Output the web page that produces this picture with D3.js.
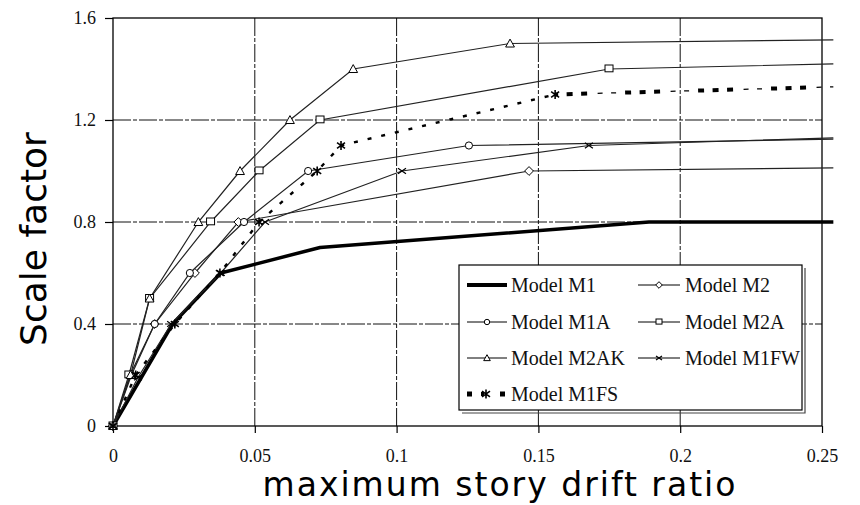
<!DOCTYPE html>
<html>
<head>
<meta charset="utf-8">
<script src="https://cdn.jsdelivr.net/npm/d3@7"></script>
<style>
  body { margin: 0; background: #fff; }
</style>
</head>
<body>
<div id="chart"></div>
<script>
var width = 860,
    height = 505;

// values (drift ratio, scale factor)
var m1Drift = [0, 0.021, 0.038, 0.073, 0.189, 0.254];
var m1Scale = [0, 0.4, 0.6, 0.7, 0.8, 0.8];

var m2Drift = [0, 0.006, 0.0147, 0.0289, 0.0442, 0.1467, 0.254];
var m2Scale = [0, 0.2, 0.4, 0.6, 0.8, 1.0, 1.012];

var m1aDrift = [0, 0.0065, 0.0147, 0.0271, 0.0462, 0.0688, 0.1255, 0.254];
var m1aScale = [0, 0.2, 0.4, 0.6, 0.8, 1.0, 1.1, 1.125];

var m2aDrift = [0, 0.0056, 0.0129, 0.0344, 0.0515, 0.073, 0.1749, 0.254];
var m2aScale = [0, 0.2, 0.5, 0.8, 1.0, 1.2, 1.4, 1.42];

var m2akDrift = [0, 0.0062, 0.0129, 0.0301, 0.0448, 0.0624, 0.0847, 0.14, 0.254];
var m2akScale = [0, 0.2, 0.5, 0.8, 1.0, 1.2, 1.4, 1.5, 1.514];

var m1fwDrift = [0, 0.0088, 0.0205, 0.038, 0.0536, 0.1019, 0.1678, 0.254];
var m1fwScale = [0, 0.19, 0.4, 0.6, 0.8, 1.0, 1.1, 1.13];

var m1fsDrift = [0, 0.008, 0.0218, 0.0377, 0.0515, 0.072, 0.0804, 0.1559, 0.254];
var m1fsScale = [0, 0.2, 0.4, 0.6, 0.8, 1.0, 1.1, 1.3, 1.33];

var xTicks = [0, 0.05, 0.1, 0.15, 0.2, 0.25];
var xTickLabels = ['0', '0.05', '0.1', '0.15', '0.2', '0.25'];
var yTicks = [0, 0.4, 0.8, 1.2, 1.6];
var yTickLabels = ['0', '0.4', '0.8', '1.2', '1.6'];

var series = [
    {name: 'Model M1', xs: m1Drift, ys: m1Scale, marker: 'none'},
    {name: 'Model M2', xs: m2Drift, ys: m2Scale, marker: 'diamond'},
    {name: 'Model M1A', xs: m1aDrift, ys: m1aScale, marker: 'circle'},
    {name: 'Model M2A', xs: m2aDrift, ys: m2aScale, marker: 'square'},
    {name: 'Model M2AK', xs: m2akDrift, ys: m2akScale, marker: 'triangle'},
    {name: 'Model M1FW', xs: m1fwDrift, ys: m1fwScale, marker: 'cross'},
    {name: 'Model M1FS', xs: m1fsDrift, ys: m1fsScale, marker: 'star'}
];

var svg = d3.select('#chart').append('svg')
    .attr('width', width)
    .attr('height', height);

var x = d3.scaleLinear().domain([0, 0.25]).range([113, 822]);
var y = d3.scaleLinear().domain([0, 1.6]).range([426, 18]);

var line = d3.line()
    .x(function(d) { return x(d[0]); })
    .y(function(d) { return y(d[1]); });

// gridlines (dash-dot)
svg.append('g').selectAll('line')
    .data(xTicks.slice(1, -1))
    .enter().append('line')
    .attr('x1', function(d) { return x(d); })
    .attr('x2', function(d) { return x(d); })
    .attr('y1', y(1.6))
    .attr('y2', y(0))
    .style('stroke', '#111')
    .style('stroke-width', 1)
    .style('stroke-dasharray', '18,2,4,2');

svg.append('g').selectAll('line')
    .data(yTicks.slice(1, -1))
    .enter().append('line')
    .attr('x1', x(0))
    .attr('x2', x(0.25))
    .attr('y1', function(d) { return y(d); })
    .attr('y2', function(d) { return y(d); })
    .style('stroke', '#111')
    .style('stroke-width', 1)
    .style('stroke-dasharray', '18,2,4,2');

// axes
var xAxis = d3.axisBottom(x)
    .tickValues(xTicks)
    .tickSize(7)
    .tickPadding(16)
    .tickFormat(function(d, i) { return xTickLabels[i]; });
var yAxis = d3.axisLeft(y)
    .tickValues(yTicks)
    .tickSize(8)
    .tickPadding(9)
    .tickFormat(function(d, i) { return yTickLabels[i]; });

var gx = svg.append('g')
    .attr('transform', 'translate(0,' + y(0) + ')')
    .call(xAxis);
var gy = svg.append('g')
    .attr('transform', 'translate(' + x(0) + ',0)')
    .call(yAxis);

[gx, gy].forEach(function(g) {
    g.select('.domain').remove();
    g.selectAll('line').style('stroke', '#000').style('stroke-width', 1.2);
    g.selectAll('text')
        .style('font-family', '"Liberation Serif", serif')
        .style('font-size', '18px')
        .style('fill', '#111');
});

// frame
svg.append('rect')
    .attr('x', x(0))
    .attr('y', y(1.6))
    .attr('width', x(0.25) - x(0))
    .attr('height', y(0) - y(1.6))
    .style('fill', 'none')
    .style('stroke', '#000')
    .style('stroke-width', 1.3);

function drawMarker(g, type, cx, cy, s) {
    if (type == 'circle') {
        g.append('circle').attr('cx', cx).attr('cy', cy).attr('r', s * 0.45)
            .style('fill', '#fff').style('stroke', '#000').style('stroke-width', 1);
    } else if (type == 'diamond') {
        var h = s * 0.55;
        g.append('path')
            .attr('d', 'M' + cx + ',' + (cy - h) + 'L' + (cx + h) + ',' + cy + 'L' + cx + ',' + (cy + h) + 'L' + (cx - h) + ',' + cy + 'Z')
            .style('fill', '#fff').style('stroke', '#000').style('stroke-width', 1);
    } else if (type == 'square') {
        g.append('rect').attr('x', cx - s / 2).attr('y', cy - s / 2)
            .attr('width', s).attr('height', s * 0.85)
            .style('fill', '#fff').style('stroke', '#000').style('stroke-width', 1);
    } else if (type == 'triangle') {
        var t = s * 0.55;
        g.append('path')
            .attr('d', 'M' + cx + ',' + (cy - t) + 'L' + (cx + t) + ',' + (cy + t * 0.8) + 'L' + (cx - t) + ',' + (cy + t * 0.8) + 'Z')
            .style('fill', '#fff').style('stroke', '#000').style('stroke-width', 1);
    } else if (type == 'cross') {
        var c = s * 0.5;
        g.append('path')
            .attr('d', 'M' + (cx - c) + ',' + (cy - c * 0.7) + 'L' + (cx + c) + ',' + (cy + c * 0.7) +
                'M' + (cx - c) + ',' + (cy + c * 0.7) + 'L' + (cx + c) + ',' + (cy - c * 0.7))
            .style('fill', 'none').style('stroke', '#000').style('stroke-width', 1.2);
    } else if (type == 'star') {
        var k = s * 0.5;
        g.append('path')
            .attr('d', 'M' + (cx - k) + ',' + (cy - k * 0.7) + 'L' + (cx + k) + ',' + (cy + k * 0.7) +
                'M' + (cx - k) + ',' + (cy + k * 0.7) + 'L' + (cx + k) + ',' + (cy - k * 0.7) +
                'M' + cx + ',' + (cy - k * 1.1) + 'L' + cx + ',' + (cy + k * 1.1))
            .style('fill', 'none').style('stroke', '#000').style('stroke-width', 1.6);
    }
}

// series lines
var plot = svg.append('g');
series.forEach(function(s) {
    var pts = s.xs.map(function(v, i) { return [v, s.ys[i]]; });
    if (s.marker == 'none') {
        plot.append('path').datum(pts)
            .attr('d', line)
            .style('fill', 'none').style('stroke', '#000').style('stroke-width', 3.5)
            .style('stroke-linejoin', 'round');
    } else if (s.marker == 'star') {
        var cut = pts.length - 2;
        plot.append('path').datum(pts.slice(0, cut + 1))
            .attr('d', line)
            .style('fill', 'none').style('stroke', '#000').style('stroke-width', 2.4)
            .style('stroke-dasharray', '4,10');
        plot.append('path').datum(pts.slice(cut))
            .attr('d', line)
            .style('fill', 'none').style('stroke', '#000').style('stroke-width', 4)
            .style('stroke-dasharray', '6,8.5,6,8.5,6,38')
            .style('stroke-dashoffset', 3);
        plot.append('path').datum(pts.slice(cut))
            .attr('d', line)
            .style('fill', 'none').style('stroke', '#000').style('stroke-width', 1.2)
            .style('stroke-dasharray', '5,8.5,5,54.5')
            .style('stroke-dashoffset', -42.5);
    } else {
        plot.append('path').datum(pts)
            .attr('d', line)
            .style('fill', 'none').style('stroke', '#222').style('stroke-width', 1.2);
    }
});

// markers (all points but the end of each line)
series.forEach(function(s) {
    if (s.marker == 'none') return;
    var mg = plot.append('g');
    s.xs.slice(0, -1).forEach(function(v, i) {
        drawMarker(mg, s.marker, x(v), y(s.ys[i]), 8);
    });
});

// legend
var lg = svg.append('g');
lg.append('path')
    .attr('d', 'M462,413L805,413L805,268')
    .style('fill', 'none').style('stroke', '#444').style('stroke-width', 1.2);
lg.append('rect')
    .attr('x', 459).attr('y', 265)
    .attr('width', 343).attr('height', 145)
    .style('fill', '#fff').style('stroke', '#000').style('stroke-width', 1.2);

var legendPos = [[467, 285], [638, 285], [467, 322], [638, 322], [467, 358], [638, 358], [467, 394]];
series.forEach(function(s, i) {
    var lx = legendPos[i][0], ly = legendPos[i][1];
    var g = lg.append('g');
    var lw = i % 2 == 0 ? 40 : 42;
    if (s.marker == 'none') {
        g.append('line').attr('x1', lx).attr('x2', lx + lw).attr('y1', ly).attr('y2', ly)
            .style('stroke', '#000').style('stroke-width', 4);
    } else if (s.marker == 'star') {
        g.append('rect').attr('x', lx).attr('y', ly - 2.5).attr('width', 5).attr('height', 5).style('fill', '#000');
        g.append('rect').attr('x', lx + 33).attr('y', ly - 2.5).attr('width', 5).attr('height', 5).style('fill', '#000');
        drawMarker(g, 'star', lx + 19, ly, 8);
        g.append('rect').attr('x', lx + 14).attr('y', ly - 2).attr('width', 3).attr('height', 4).style('fill', '#000');
    } else {
        g.append('line').attr('x1', lx).attr('x2', lx + lw).attr('y1', ly).attr('y2', ly)
            .style('stroke', '#000').style('stroke-width', 1);
        drawMarker(g, s.marker, lx + lw / 2, ly, 6);
    }
    g.append('text')
        .attr('x', lx + (i % 2 == 0 ? 44 : 47))
        .attr('y', ly + 7)
        .text(s.name)
        .style('font-family', '"Liberation Serif", serif')
        .style('font-size', '20px')
        .style('fill', '#111');
});

// axis titles
svg.append('text')
    .attr('x', 500)
    .attr('y', 496)
    .attr('text-anchor', 'middle')
    .text('maximum story drift ratio')
    .style('font-family', '"DejaVu Sans", sans-serif')
    .style('font-size', '33px')
    .style('letter-spacing', '2px')
    .style('fill', '#000');

svg.append('text')
    .attr('transform', 'translate(46,239) rotate(-90)')
    .attr('text-anchor', 'middle')
    .text('Scale factor')
    .style('font-family', '"DejaVu Sans", sans-serif')
    .style('font-size', '36px')
    .style('fill', '#000');
</script>
</body>
</html>
